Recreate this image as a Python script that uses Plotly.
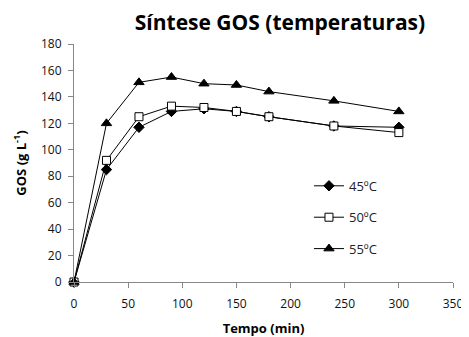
import plotly.graph_objects as go

tempo = [0, 30, 60, 90, 120, 150, 180, 240, 300]
gos_45 = [0, 85, 117, 129, 131, 129, 125, 118, 117]
gos_50 = [0, 92, 125, 133, 132, 129, 125, 118, 113]
gos_55 = [0, 120, 151, 155, 150, 149, 144, 137, 129]
series_names = ["45ºC", "50ºC", "55ºC"]

fig = go.Figure()
styles = [
    dict(symbol="diamond", size=8, color="black", line=dict(color="black", width=1)),
    dict(symbol="square", size=8, color="white", line=dict(color="black", width=1)),
    dict(symbol="triangle-up", size=9, color="black", line=dict(color="black", width=1)),
]
for i, (name, vals) in enumerate(zip(series_names, [gos_45, gos_50, gos_55])):
    fig.add_trace(go.Scatter(
        x=tempo, y=vals, name=name, mode="lines+markers",
        line=dict(color="black", width=1),
        marker=styles[i], legendgroup=f"g{i}", cliponaxis=False,
    ))

font = "Open Sans, Lato, sans-serif"
fig.update_layout(
    width=461, height=329,
    paper_bgcolor="white", plot_bgcolor="white",
    margin=dict(l=66, r=16, t=36, b=55, autoexpand=False),
    title=dict(text="<b>Síntese GOS (temperaturas)</b>", x=0.59, xanchor="center",
               y=0.955, yanchor="middle", automargin=False,
               font=dict(family=font, size=21, color="black")),
    font=dict(family=font, size=12, color="#111"),
    showlegend=True,
    legend=dict(x=0.62, y=0.467, xanchor="left", yanchor="top", bgcolor="rgba(0,0,0,0)",
                font=dict(family=font, size=13, color="#222"), tracegroupgap=11.5,
                itemwidth=30),
    xaxis=dict(range=[0, 350], tickvals=[0, 50, 100, 150, 200, 250, 300, 350],
               showgrid=False, zeroline=False, showline=True, linecolor="#888888",
               linewidth=1, ticks="outside", ticklen=5, tickcolor="#888888",
               automargin=False, ticklabelstandoff=6,
               title=dict(text="<b>Tempo (min)</b>", font=dict(family=font, size=13, color="black"),
                          standoff=18),
               tickfont=dict(size=12)),
    yaxis=dict(range=[0, 180], tickvals=list(range(0, 181, 20)),
               showgrid=False, zeroline=False, showline=True, linecolor="#888888",
               linewidth=1, ticks="outside", ticklen=5, tickcolor="#888888",
               automargin=False, ticklabelstandoff=4,
               title=dict(text="<b>GOS (g L<sup>-1</sup>)</b>", font=dict(family=font, size=13, color="black"),
                          standoff=11),
               tickfont=dict(size=12)),
)

fig.write_html("out.html")
